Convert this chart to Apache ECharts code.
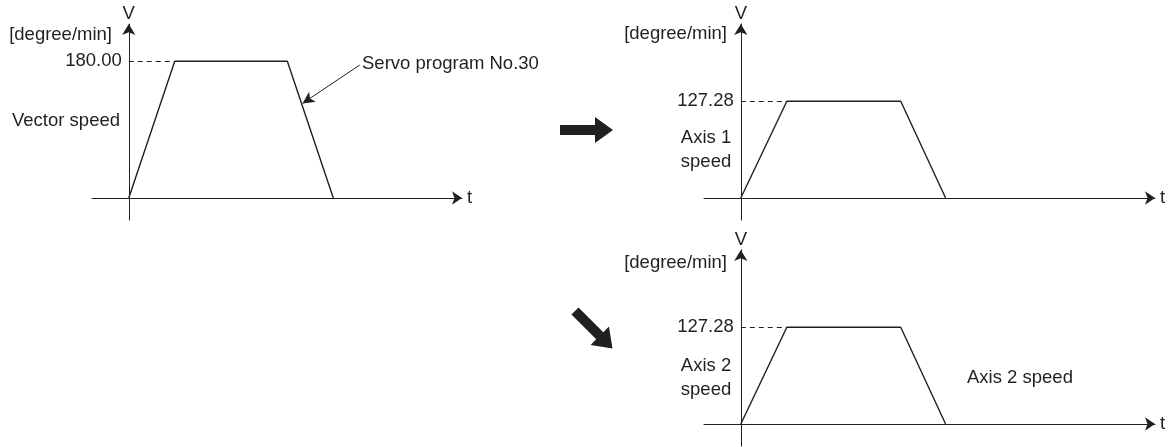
<!DOCTYPE html>
<html>
<head>
<meta charset="utf-8">
<script src="https://cdn.jsdelivr.net/npm/echarts@6/dist/echarts.min.js"></script>
<style>
  html, body { margin: 0; padding: 0; background: #fff; }
  #main { width: 1170px; height: 447px; }
</style>
</head>
<body>
<div id="main"></div>
<script>
// time points of the trapezoids (arbitrary time units)
var vectorTime = [0, 20, 69, 89];
var axisTime = [0, 20, 69.5, 89];
// speeds [degree/min]
var vectorSpeed = [0, 180, 180, 0];
var axis1Speed = [0, 127.28, 127.28, 0];
var axis2Speed = [0, 127.28, 127.28, 0];
var peakLabels = ['180.00', '127.28', '127.28'];

var ink = '#231f20';
var fnt = 'Liberation Sans, Arial, sans-serif';
var fs = 18.5;

function pairs(t, v) {
	var out = [];
	for (var i = 0; i < t.length; i++) out.push([t[i], v[i]]);
	return out;
}

function xAx(idx, max) {
	return {
		type: 'value', gridIndex: idx, min: -16, max: max,
		name: 't', nameLocation: 'end', nameGap: 5,
		nameTextStyle: { color: ink, fontSize: fs, fontFamily: fnt, verticalAlign: 'middle' },
		axisLine: { onZero: true, lineStyle: { color: ink, width: 1 }, symbol: ['none', 'arrow'], symbolSize: [10, 10] },
		axisTick: { show: false }, axisLabel: { show: false }, splitLine: { show: false }
	};
}
function yAx(idx) {
	return {
		type: 'value', gridIndex: idx, min: -29, max: 229,
		name: 'V', nameLocation: 'end', nameGap: 1,
		nameTextStyle: { color: ink, fontSize: fs, fontFamily: fnt },
		axisLine: { onZero: true, lineStyle: { color: ink, width: 1 }, symbol: ['none', 'arrow'], symbolSize: [10, 11] },
		axisTick: { show: false }, axisLabel: { show: false }, splitLine: { show: false }
	};
}
function peakLine(t, v, lbl) {
	return [{ coord: [0, v[1]], label: { show: true, position: 'start', formatter: lbl, distance: 7,
			color: ink, fontSize: fs, fontFamily: fnt } },
		{ coord: [t[1], v[1]] }];
}
function ser(idx, t, v, lbl, extra) {
	var ml = [peakLine(t, v, lbl)];
	if (extra) ml.push(extra);
	return {
		type: 'line', xAxisIndex: idx, yAxisIndex: idx,
		data: pairs(t, v), symbol: 'none',
		lineStyle: { color: ink, width: 1.4 },
		markLine: {
			silent: true, symbol: ['none', 'none'], animation: false,
			lineStyle: { color: ink, type: [5, 4], width: 1 },
			data: ml
		}
	};
}

// leader arrow for "Servo program No.30"
var leader = [
	{ coord: [100.5, 175], symbol: 'none', lineStyle: { type: 'solid', width: 1, color: ink }, label: { show: false } },
	{ coord: [75.6, 124.5], symbol: 'arrow', symbolSize: [9, 12] }
];

function txt(x, y, s, align) {
	return { type: 'text', x: x, y: y, style: { text: s, fill: ink, font: fs + 'px ' + fnt, textAlign: align || 'right', textVerticalAlign: 'middle' } };
}
var arrowPts = [[0, -5], [35, -5], [35, -13], [53, 0], [35, 13], [35, 5], [0, 5]];

var myChart = echarts.init(document.getElementById('main'));
var option = {
	animation: false,
	grid: [
		{ left: 92, top: 24, width: 370, height: 196 },
		{ left: 704, top: 24, width: 451, height: 196 },
		{ left: 704, top: 250, width: 451, height: 196 }
	],
	xAxis: [xAx(0, 145), xAx(1, 180), xAx(2, 180)],
	yAxis: [yAx(0), yAx(1), yAx(2)],
	series: [
		ser(0, vectorTime, vectorSpeed, peakLabels[0], leader),
		ser(1, axisTime, axis1Speed, peakLabels[1]),
		ser(2, axisTime, axis2Speed, peakLabels[2])
	],
	graphic: [
		txt(112, 35, '[degree/min]'),
		txt(120, 121, 'Vector speed'),
		txt(362, 64, 'Servo program No.30', 'left'),
		txt(727, 34, '[degree/min]'),
		txt(706, 138, 'Axis 1', 'center'),
		txt(706, 162, 'speed', 'center'),
		txt(727, 263, '[degree/min]'),
		txt(706, 366, 'Axis 2', 'center'),
		txt(706, 390, 'speed', 'center'),
		txt(967, 378, 'Axis 2 speed', 'left'),
		{ type: 'polygon', x: 560, y: 130, shape: { points: arrowPts }, style: { fill: ink } },
		{ type: 'polygon', x: 575, y: 311, rotation: -Math.PI / 4, shape: { points: arrowPts }, style: { fill: ink } }
	]
};
myChart.setOption(option);
</script>
</body>
</html>
